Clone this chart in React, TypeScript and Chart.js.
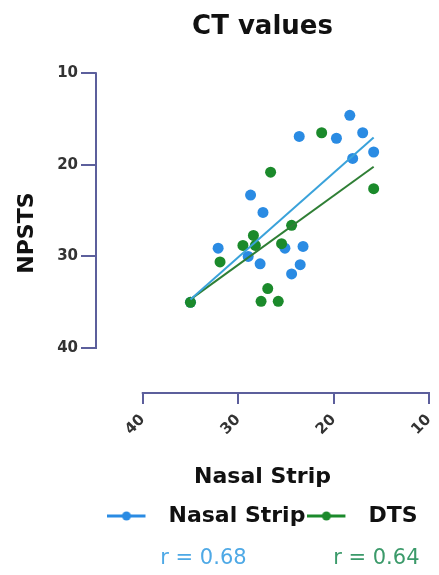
import React, { useEffect, useRef } from "react";
import { Chart, registerables } from "chart.js";

Chart.register(...registerables);

const chartTitle = "CT values";
const xAxisTitle = "Nasal Strip";
const yAxisTitle = "NPSTS";
const seriesNames = ["Nasal Strip", "DTS"];
const axisTicks = [10, 20, 30, 40];
const correlationLabels = ["r = 0.68", "r = 0.64"];

const nasalStripX = [18.3, 16.95, 19.7, 23.6, 15.8, 18.0, 28.7, 27.4, 32.1, 23.2, 28.95, 27.7, 23.5, 24.4, 25.1, 35.0];
const nasalStripY = [14.6, 16.5, 17.1, 16.9, 18.6, 19.3, 23.3, 25.2, 29.1, 28.9, 30.0, 30.8, 30.9, 31.9, 29.1, 35.0];
const dtsX = [21.25, 26.6, 15.8, 24.4, 28.4, 29.5, 28.2, 25.45, 31.9, 26.9, 27.6, 25.8, 35.0];
const dtsY = [16.5, 20.8, 22.6, 26.6, 27.7, 28.8, 28.8, 28.6, 30.6, 33.5, 34.9, 34.9, 35.0];

const blue = "#2a8be3";
const green = "#1b8a2b";
const blueFit = "#3aa2da";
const greenFit = "#2f7f35";
const blueText = "#4ea9e6";
const greenText = "#3b9a6a";
const axisColor = "#5c5f9c";
const FONT = "'DejaVu Sans', sans-serif";

function toPoints(xs: number[], ys: number[]) {
  return xs.map((x, i) => ({ x, y: ys[i] }));
}

function fitLine(xs: number[], ys: number[]) {
  const n = xs.length;
  const mx = xs.reduce((a, b) => a + b, 0) / n;
  const my = ys.reduce((a, b) => a + b, 0) / n;
  let sxy = 0;
  let sxx = 0;
  for (let i = 0; i < n; i++) {
    sxy += (xs[i] - mx) * (ys[i] - my);
    sxx += (xs[i] - mx) * (xs[i] - mx);
  }
  const slope = sxy / sxx;
  const icpt = my - slope * mx;
  const x0 = Math.min(...xs);
  const x1 = Math.max(...xs);
  return [
    { x: x0, y: icpt + slope * x0 },
    { x: x1, y: icpt + slope * x1 },
  ];
}

function makeIcon(color: string) {
  const c = document.createElement("canvas");
  c.width = 50;
  c.height = 12;
  const ctx = c.getContext("2d")!;
  ctx.strokeStyle = color;
  ctx.lineWidth = 3;
  ctx.beginPath();
  ctx.moveTo(0, 6);
  ctx.lineTo(38, 6);
  ctx.stroke();
  ctx.fillStyle = color;
  ctx.beginPath();
  ctx.arc(19, 6, 4.5, 0, Math.PI * 2);
  ctx.fill();
  return c;
}

const decorPlugin = {
  id: "decor",
  afterDraw(chart: any) {
    const { ctx, chartArea, scales } = chart;
    const xs = scales.x;
    const ys = scales.y;
    ctx.save();
    ctx.strokeStyle = axisColor;
    ctx.lineWidth = 2;
    ctx.lineCap = "square";
    ctx.beginPath();
    ctx.moveTo(chartArea.left, ys.getPixelForValue(axisTicks[0]));
    ctx.lineTo(chartArea.left, ys.getPixelForValue(axisTicks[axisTicks.length - 1]));
    ctx.moveTo(xs.getPixelForValue(axisTicks[axisTicks.length - 1]), chartArea.bottom);
    ctx.lineTo(xs.getPixelForValue(axisTicks[0]), chartArea.bottom);
    ctx.stroke();

    const lg = chart.legend;
    const hb = lg.legendHitBoxes;
    if (hb && hb.length >= 2) {
      const y = lg.bottom + 22;
      ctx.font = `21px ${FONT}`;
      ctx.textBaseline = "middle";
      ctx.fillStyle = blueText;
      ctx.textAlign = "center";
      ctx.fillText(correlationLabels[0], hb[0].left + hb[0].width / 2 - 3, y);
      ctx.fillStyle = greenText;
      ctx.textAlign = "right";
      ctx.fillText(correlationLabels[1], hb[1].left + hb[1].width + 2, y);
    }
    ctx.restore();
  },
};

export default function App() {
  const ref = useRef<HTMLCanvasElement>(null);

  useEffect(() => {
    document.body.style.margin = "0";
    Chart.defaults.font.family = FONT;
    const icons = [makeIcon(blue), makeIcon(green)];
    const setTicks = (s: any) => {
      s.ticks = axisTicks.map((v) => ({ value: v }));
    };
    const chart = new Chart(ref.current!, {
      type: "scatter",
      data: {
        datasets: [
          {
            type: "line",
            label: "fit-blue",
            data: fitLine(nasalStripX, nasalStripY),
            borderColor: blueFit,
            borderWidth: 2,
            pointRadius: 0,
            fill: false,
          } as any,
          {
            type: "line",
            label: "fit-green",
            data: fitLine(dtsX, dtsY),
            borderColor: greenFit,
            borderWidth: 2,
            pointRadius: 0,
            fill: false,
          } as any,
          {
            label: seriesNames[1],
            data: toPoints(dtsX, dtsY),
            backgroundColor: green,
            borderWidth: 0,
            pointRadius: 5.5,
          },
          {
            label: seriesNames[0],
            data: toPoints(nasalStripX, nasalStripY),
            backgroundColor: blue,
            borderWidth: 0,
            pointRadius: 5.5,
          },
        ],
      },
      options: {
        animation: false,
        responsive: false,
        devicePixelRatio: 1,
        layout: { padding: { left: 0, right: 10, top: 0, bottom: 38 } },
        scales: {
          x: {
            type: "linear",
            reverse: true,
            min: 10,
            max: 44.9,
            afterBuildTicks: setTicks,
            afterFit: (s: any) => {
              s.height = 110;
            },
            ticks: {
              autoSkip: false,
              minRotation: 45,
              maxRotation: 45,
              padding: 7,
              color: "#333",
              font: { size: 15, weight: "bold" },
            },
            grid: {
              drawOnChartArea: false,
              drawTicks: true,
              tickLength: 11,
              color: axisColor,
              lineWidth: 2,
            },
            border: { display: false },
            title: {
              display: true,
              text: xAxisTitle,
              color: "#111",
              font: { size: 22, weight: "bold" },
              padding: { top: 0, bottom: 13 },
            },
          },
          y: {
            type: "linear",
            reverse: true,
            min: 10,
            max: 44.9,
            afterBuildTicks: setTicks,
            afterFit: (s: any) => {
              s.width = 96;
            },
            ticks: {
              padding: 3,
              color: "#333",
              font: { size: 15, weight: "bold" },
            },
            grid: {
              drawOnChartArea: false,
              drawTicks: true,
              tickLength: 15,
              color: axisColor,
              lineWidth: 2,
            },
            border: { display: false },
            title: {
              display: true,
              text: yAxisTitle,
              color: "#111",
              font: { size: 22, weight: "bold" },
              padding: { top: 14, bottom: 0 },
            },
          },
        },
        plugins: {
          title: {
            display: true,
            text: chartTitle,
            color: "#111",
            fullSize: false,
            font: { size: 26, weight: "bold" },
            padding: { top: 12, bottom: 30 },
          },
          legend: {
            position: "bottom",
            fullSize: false,
            labels: {
              usePointStyle: true,
              pointStyleWidth: 50,
              padding: 2,
              color: "#111",
              font: { size: 22, weight: "bold" },
              generateLabels: () =>
                seriesNames.map((name, i) => ({
                  text: name,
                  pointStyle: icons[i],
                  fillStyle: i === 0 ? blue : green,
                  strokeStyle: i === 0 ? blue : green,
                  lineWidth: 0,
                  hidden: false,
                  datasetIndex: i === 0 ? 3 : 2,
                  fontColor: "#111",
                })) as any,
            },
          },
          tooltip: { enabled: false },
        },
      },
      plugins: [decorPlugin],
    });
    return () => chart.destroy();
  }, []);

  return (
    <div style={{ width: 439, height: 575 }}>
      <canvas ref={ref} width={439} height={575} style={{ display: "block" }} />
    </div>
  );
}
